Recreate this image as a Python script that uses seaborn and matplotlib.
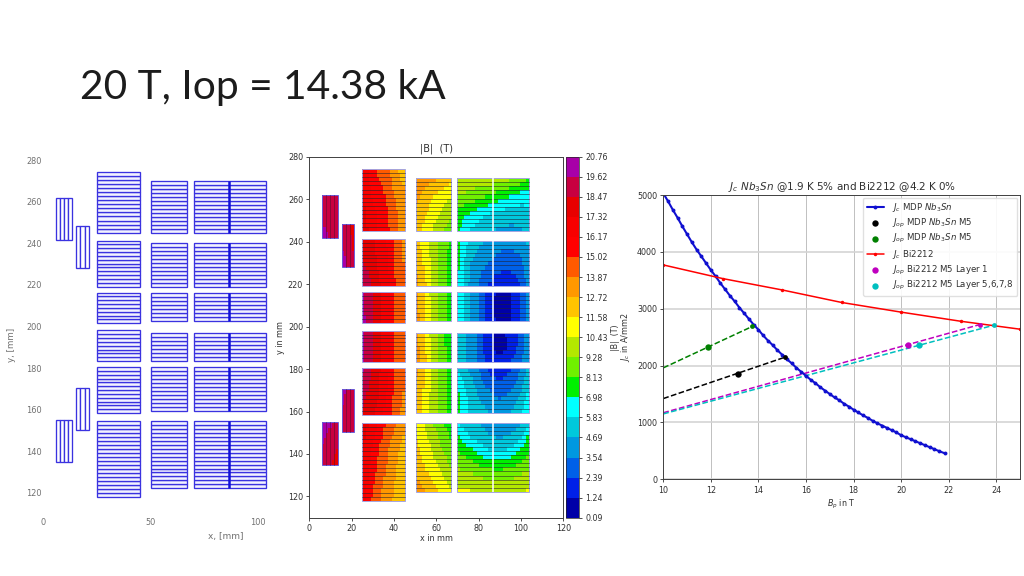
import numpy as np
import matplotlib
matplotlib.use("Agg")
import matplotlib.pyplot as plt
from matplotlib.patches import Rectangle
from matplotlib.colors import ListedColormap, BoundaryNorm
from matplotlib.cm import ScalarMappable
import seaborn as sns

sns.set_style("white")
plt.rcParams['font.family'] = ['DejaVu Sans']
W, H = 1024, 576

# ---------- coil geometry: (x0, x1, y0, y1, turns)
col1 = [(25, 45, 245.1, 274.2, 15), (25, 45, 219.2, 241.3, 12), (25, 45, 201.6, 216.3, 8),
        (25, 45, 183.4, 198.1, 8), (25, 45, 158.4, 180.5, 12), (25, 45, 118, 154.7, 19)]
col2 = [(50.3, 67, 245.1, 269.8, 13), (50.3, 67, 219.2, 240.3, 11), (50.3, 67, 202.7, 216.3, 7),
        (50.3, 67, 183.4, 196.8, 7), (50.3, 67, 159.5, 180.5, 11), (50.3, 67, 122.2, 154.7, 17)]
col3 = [(70, 103.6, 245.1, 269.8, 13), (70, 103.6, 219.2, 240.3, 11), (70, 103.6, 202.7, 216.3, 7),
        (70, 103.6, 183.4, 196.8, 7), (70, 103.6, 159.5, 180.5, 11), (70, 103.6, 122.2, 154.7, 17)]
small = [(5.9, 13.4, 241.8, 261.9, 4), (15.3, 21.2, 228.2, 248.3, 3),
         (15.3, 21.2, 150.2, 170.6, 3), (5.9, 13.4, 134.7, 155, 4)]
mid_split = 86.6

# ---------- |B| contour levels and colours
levels = [0.09, 1.24, 2.39, 3.54, 4.69, 5.83, 6.98, 8.13, 9.28, 10.43, 11.58, 12.72, 13.87,
          15.02, 16.17, 17.32, 18.47, 19.62, 20.76]
level_colors = ['#0000A8', '#0020E8', '#0060E8', '#0098E0', '#00C8DC', '#00FFFF', '#00F000',
                '#70F000', '#B4E800', '#FFFF00', '#FFC400', '#FF9800', '#FF5A00', '#FF0000',
                '#F80000', '#E80000', '#C80040', '#A800A8']

# ---------- |B| samples, rows top to bottom, columns left to right
c1_x = [25, 29, 33, 37, 41, 45]
c1_b = [
    [[17, 16, 14.5, 14, 13, 12], [17.5, 16, 15.5, 14.5, 13.5, 12.8],
     [18, 16.5, 16, 15, 14, 13.2], [18, 17, 16, 15.2, 14.2, 13.2]],
    [[18, 17.5, 17, 16, 14.5, 13.5], [18.5, 18, 17, 16.2, 14.5, 13.8], [19.8, 18.5, 17.5, 16.5, 15, 14]],
    [[20, 18.6, 17.5, 16.5, 14.6, 13.9], [20.2, 18.8, 17.5, 16.5, 14.6, 13.8]],
    [[20, 18.8, 17.5, 16.5, 14.6, 13.8], [20, 18.8, 17.5, 16.5, 14.6, 13.8]],
    [[20, 18.5, 17.5, 16.5, 14.5, 14], [19, 18.2, 17.3, 16, 14.5, 13.8], [18.3, 17.5, 17, 15.5, 14.3, 13.5]],
    [[18, 17.2, 16, 14.7, 14, 13], [17.5, 16.2, 15, 14, 13, 12.3],
     [17.5, 15.8, 14.5, 13.5, 12.7, 11.8], [16.8, 15, 14, 13.2, 12.3, 11.8]],
]
c2_x = [50.3, 54, 58, 62, 67]
c2_b = [
    [[13.5, 13.2, 13, 12.8, 12], [13, 12.5, 11.8, 11, 10.5], [12.5, 11.8, 11, 10.3, 9.5], [12.2, 11.3, 10.5, 9.5, 8.6]],
    [[12.5, 11, 10, 9, 7.8], [13, 12, 10.5, 9, 7.5]],
    [[13, 11.7, 10, 8.8, 7.4], [13.5, 12, 10.3, 8.9, 7.5]],
    [[13, 11.7, 10, 8.7, 7.3], [13.6, 12.2, 10.3, 8.9, 7.5]],
    [[13, 11.7, 10.2, 8.9, 7.5], [12.5, 11.4, 10, 8.8, 7.6]],
    [[11, 10.5, 9.5, 8.5, 7.5], [12, 11, 10.3, 9.3, 8.2], [12.3, 11.7, 11, 10.3, 9.3], [13.5, 13, 12.2, 11.5, 10.7]],
]
c3_x = [70, 75, 80, 85, 90, 95, 100, 103.6]
c3_b = [
    [[10.5, 10.2, 10, 10, 10, 9.5, 9, 8], [9.3, 9, 8.6, 8, 7.5, 7, 6.4, 6.3],
     [7.5, 7, 6.3, 5.8, 5.4, 5.2, 5.2, 5.5], [7.2, 5.9, 5.2, 4.8, 4.5, 4.4, 4.5, 4.9]],
    [[7.5, 5.8, 5, 4.4, 4, 3.9, 4.1, 5], [7.3, 5, 4, 3.5, 3, 2.9, 3.3, 4.3], [6.9, 4.8, 3.4, 2.2, 1.3, 1.4, 2.4, 4]],
    [[7.2, 5, 3.5, 1.9, 0.8, 1.1, 2.5, 4], [7.2, 5, 3.5, 1.7, 0.7, 1.1, 2.5, 4], [7, 5, 3.5, 1.8, 0.9, 1.2, 2.6, 4]],
    [[5.3, 4.4, 3.2, 1.6, 0.9, 1.5, 2.8, 4.4], [5.6, 4.6, 3.3, 1.4, 0.8, 1.5, 3, 4.5], [5.6, 4.6, 3.4, 2, 1.6, 2.3, 3.3, 4.5]],
    [[5.6, 4.6, 3.6, 2, 1.5, 2.2, 3.6, 5], [7.1, 5.6, 4.4, 3.5, 3, 3.4, 4.6, 6], [7.5, 5.9, 5.4, 4.7, 4.4, 4.7, 5.6, 7.1]],
    [[5.8, 5.3, 4.7, 4.2, 3.7, 4.2, 4.6, 5.5], [7.3, 5.9, 5.3, 4.8, 4.6, 4.8, 5.5, 7.2],
     [8.1, 7.5, 6.6, 5.8, 5.7, 6, 7.2, 8], [8.9, 8.6, 8, 7.6, 7.4, 7.8, 8.3, 8.8],
     [10.1, 9.9, 9.5, 9.1, 9, 9.2, 9.7, 10], [10.7, 10.6, 10.4, 10.2, 10.1, 10.2, 10.4, 10.6]],
]
small_b = [
    [[18.5, 18.5, 18.5], [20.2, 19.5, 18.5]],
    [[19, 18.5, 18], [20.3, 19.5, 18.5]],
    [[20.3, 19.3, 18.5], [19, 18.5, 18.5]],
    [[20.3, 19.8, 19], [19, 18.5, 18]],
]

# ---------- Jc curves and operating points
nb_b = [10.0, 10.2, 10.4, 10.6, 10.8, 11.0, 11.2, 11.4, 11.6, 11.8, 12.0, 12.2, 12.4, 12.6, 12.8,
        13.0, 13.2, 13.4, 13.6, 13.8, 14.0, 14.2, 14.4, 14.6, 14.8, 15.0, 15.2, 15.4, 15.6, 15.8,
        16.0, 16.2, 16.4, 16.6, 16.8, 17.0, 17.2, 17.4, 17.6, 17.8, 18.0, 18.2, 18.4, 18.6, 18.8,
        19.0, 19.2, 19.4, 19.6, 19.8, 20.0, 20.2, 20.4, 20.6, 20.8, 21.0, 21.2, 21.4, 21.6, 21.85]
nb_j = [5030, 4890, 4740, 4600, 4450, 4310, 4170, 4040, 3920, 3800, 3680, 3570, 3450, 3340, 3230,
        3130, 3020, 2920, 2820, 2720, 2630, 2530, 2440, 2360, 2270, 2190, 2110, 2040, 1960, 1890,
        1820, 1750, 1690, 1620, 1560, 1500, 1440, 1390, 1330, 1280, 1225, 1175, 1125, 1080, 1030,
        985, 945, 905, 865, 825, 775, 740, 705, 670, 635, 600, 565, 530, 495, 455]
bi_b = [10, 12.5, 15, 17.5, 20, 22.5, 25]
bi_j = [3770, 3530, 3330, 3110, 2940, 2780, 2640]
black_line_b, black_line_j = [10, 15.1], [1420, 2145]
green_line_b, green_line_j = [10, 13.75], [1960, 2690]
mag_line_b, mag_line_j = [10, 23.3], [1170, 2720]
cyan_line_b, cyan_line_j = [10, 23.9], [1150, 2710]
black_pts_b, black_pts_j = [13.15, 15.1], [1850, 2145]
green_pts_b, green_pts_j = [11.9, 13.75], [2325, 2690]
mag_pts_b, mag_pts_j = [20.27, 23.3], [2360, 2720]
cyan_pts_b, cyan_pts_j = [20.75, 23.9], [2360, 2710]

fig = plt.figure(figsize=(W / 100, H / 100), dpi=100)


def px_axes(x0, y0, x1, y1):
    return fig.add_axes([x0 / W, 1 - y1 / H, (x1 - x0) / W, (y1 - y0) / H])


fig.text(80 / W, 1 - 98.5 / H, "20 T, Iop = 14.38 kA", family="Lato", fontsize=29.3,
         color="#1c1c1c", ha="left", va="baseline")

# ---------- left panel: coil cross-section
ax = px_axes(43.3, 149.6, 270.9, 513.8)
ax.set_xlim(0, 106)
ax.set_ylim(110, 285)
blue = "#3a32e0"
for x0, x1, y0, y1, n in col1 + col2 + col3:
    edges = np.linspace(y0, y1, n + 1)
    for a, b in zip(edges[:-1], edges[1:]):
        ax.add_patch(Rectangle((x0, a), x1 - x0, b - a, fc="#f2f2ff", ec=blue, lw=0.95))
for x0, x1, y0, y1, n in col3:
    ax.plot([mid_split, mid_split], [y0, y1], color="#1010d8", lw=1.8, solid_capstyle="butt")
for x0, x1, y0, y1, n in small:
    edges = np.linspace(x0, x1, n + 1)
    for a, b in zip(edges[:-1], edges[1:]):
        ax.add_patch(Rectangle((a, y0), b - a, y1 - y0, fc="white", ec=blue, lw=0.95))
sns.despine(ax=ax, left=True, bottom=True, top=True, right=True)
ax.set_xticks([0, 50, 100])
ax.set_yticks([120, 140, 160, 180, 200, 220, 240, 260, 280])
ax.tick_params(length=0, labelsize=5.9, labelcolor="#707070", pad=3)
ax.tick_params(axis="y", pad=1)
fig.text(226 / W, 1 - 536 / H, "x, [mm]", fontsize=6.5, color="#707070", ha="center", va="center")
fig.text(12 / W, 1 - 345 / H, "y, [mm]", fontsize=6.3, color="#707070", rotation=90, ha="center", va="center")

# ---------- middle panel: |B| map
cmap = ListedColormap(level_colors)
norm = BoundaryNorm(levels, cmap.N)


def draw_field(ax, xs, ys, field, xn, yn):
    """Show the read samples in stepped cells, one row per turn."""
    field = np.array(field, dtype=float)
    xe = np.linspace(xs[0], xs[-1], xn + 1)
    ye = np.linspace(ys[-1], ys[0], yn + 1)
    xc, yc = (xe[:-1] + xe[1:]) / 2, (ye[:-1] + ye[1:]) / 2
    across = np.array([np.interp(xc, xs, row) for row in field])
    cells = np.array([np.interp(yc, ys[::-1], across[::-1, j]) for j in range(xn)]).T
    ax.pcolormesh(xe, ye, cells, cmap=cmap, norm=norm)


ax = px_axes(309.3, 156.7, 563.3, 517.7)
ax.set_xlim(0, 120)
ax.set_ylim(110, 280)
for blocks, xs, fields in [(col1, c1_x, c1_b), (col2, c2_x, c2_b), (col3, c3_x, c3_b)]:
    for (x0, x1, y0, y1, n), field in zip(blocks, fields):
        ys = np.linspace(y1, y0, len(field))
        draw_field(ax, xs, ys, field, int(x1 - x0), n)
        ax.add_patch(Rectangle((x0, y0), x1 - x0, y1 - y0, fc="none", ec="#a4a4e0", lw=0.7, zorder=3))
        for yy in np.linspace(y0, y1, n + 1)[1:-1]:
            ax.plot([x0, x1], [yy, yy], color="#202030", lw=0.55, alpha=0.7, zorder=3)
for x0, x1, y0, y1, n in col3:
    ax.plot([mid_split, mid_split], [y0, y1], color="white", lw=1.1, zorder=4, solid_capstyle="butt")
for (x0, x1, y0, y1, n), field in zip(small, small_b):
    xs = np.linspace(x0, x1, len(field[0]))
    ys = np.linspace(y1, y0, len(field))
    draw_field(ax, xs, ys, field, n * 2, 8)
    ax.add_patch(Rectangle((x0, y0), x1 - x0, y1 - y0, fc="none", ec="#6a5ad8", lw=0.7, zorder=3))
    for xx in np.linspace(x0, x1, n + 1)[1:-1]:
        ax.plot([xx, xx], [y0, y1], color="#501030", lw=0.6, alpha=0.6, zorder=3)
ax.set_xticks(range(0, 121, 20))
ax.set_yticks(range(120, 281, 20))
ax.tick_params(length=2.5, width=0.6, labelsize=5.8, pad=2, colors="#303030", bottom=True, left=True)
for s in ax.spines.values():
    s.set_linewidth(0.7)
    s.set_color("#404040")
ax.set_xlabel("x in mm", fontsize=5.8, color="#303030")
ax.set_ylabel("y in mm", fontsize=5.8, color="#303030")
ax.xaxis.set_label_coords(0.5, -0.046)
ax.yaxis.set_label_coords(-0.096, 0.5)
ax.set_title("|B|  (T)", fontsize=7, pad=4, color="#303030")

cax = px_axes(566, 156.7, 579.3, 517.7)
cb = fig.colorbar(ScalarMappable(norm=norm, cmap=cmap), cax=cax, ticks=levels)
cb.ax.set_yticklabels([f"{v:.2f}" for v in levels])
cb.ax.tick_params(length=2.5, width=0.6, labelsize=5.7, pad=2, colors="#303030", right=True)
cb.outline.set_linewidth(0.5)
cb.set_label("|B|  (T)", fontsize=5.8, labelpad=2, color="#303030")

# ---------- right panel: Jc vs Bp
ax = px_axes(663.3, 195, 1020, 479.3)
ax.set_xlim(10, 25)
ax.set_ylim(0, 5000)
ax.grid(True, axis="x", color="#c0c0c0", lw=0.7)
ax.grid(True, axis="y", color="#d4d4d4", lw=1.2)
ax.set_axisbelow(True)
sns.lineplot(x=black_line_b, y=black_line_j, ax=ax, color="k", lw=1.1, linestyle="--", errorbar=None)
sns.lineplot(x=green_line_b, y=green_line_j, ax=ax, color="g", lw=1.1, linestyle="--", errorbar=None)
sns.lineplot(x=mag_line_b, y=mag_line_j, ax=ax, color="m", lw=1.1, linestyle="--", errorbar=None)
sns.lineplot(x=cyan_line_b, y=cyan_line_j, ax=ax, color="c", lw=1.1, linestyle="--", errorbar=None)
sns.lineplot(x=nb_b, y=nb_j, ax=ax, color="#1010d0", lw=1.5, marker="o", ms=2.8, mew=0, errorbar=None,
             label=r"$J_c$ MDP $Nb_3Sn$", sort=False)
sns.scatterplot(x=black_pts_b[:1], y=black_pts_j[:1], ax=ax, color="k", s=21, linewidth=0, zorder=4,
                label=r"$J_{op}$ MDP $Nb_3Sn$ M5")
sns.scatterplot(x=green_pts_b[:1], y=green_pts_j[:1], ax=ax, color="g", s=21, linewidth=0, zorder=4,
                label=r"$J_{op}$ MDP $Nb_3Sn$ M5")
sns.lineplot(x=bi_b, y=bi_j, ax=ax, color="r", lw=1.1, marker="o", ms=2.5, mew=0, errorbar=None,
             label=r"$J_c$ Bi2212", sort=False)
sns.scatterplot(x=mag_pts_b[:1], y=mag_pts_j[:1], ax=ax, color="m", s=21, linewidth=0, zorder=4,
                label=r"$J_{op}$ Bi2212 M5 Layer 1")
sns.scatterplot(x=cyan_pts_b[:1], y=cyan_pts_j[:1], ax=ax, color="c", s=21, linewidth=0, zorder=4,
                label=r"$J_{op}$ Bi2212 M5 Layer 5,6,7,8")
for bb, jj, cc in [(black_pts_b, black_pts_j, "k"), (green_pts_b, green_pts_j, "g"),
                   (mag_pts_b, mag_pts_j, "m"), (cyan_pts_b, cyan_pts_j, "c")]:
    sns.scatterplot(x=bb[1:], y=jj[1:], ax=ax, color=cc, s=12, linewidth=0, zorder=4)
ax.set_xticks(range(10, 25, 2))
ax.set_yticks(range(0, 5001, 1000))
ax.tick_params(length=2.5, width=0.6, labelsize=5.8, pad=2, colors="#303030", bottom=True, left=True)
for s in ax.spines.values():
    s.set_linewidth(0.7)
    s.set_color("#404040")
ax.set_xlabel(r"$B_p$ in T", fontsize=5.8, color="#303030")
ax.set_ylabel(r"$J_c$ in A/mm2", fontsize=5.8, color="#303030")
ax.xaxis.set_label_coords(0.5, -0.064)
ax.yaxis.set_label_coords(-0.088, 0.5)
ax.set_title(r"$J_c$ $Nb_3Sn$ @1.9 K 5% and Bi2212 @4.2 K 0%", fontsize=7.5, pad=3.5, color="#303030")
ax.legend(loc="upper right", fontsize=6.2, frameon=True, framealpha=0.9, edgecolor="#dddddd",
          borderaxespad=0.3, labelspacing=0.3, borderpad=0.4, handlelength=2.0, handletextpad=1.0,
          labelcolor="#303030")

fig.savefig("out.png", dpi=100)
